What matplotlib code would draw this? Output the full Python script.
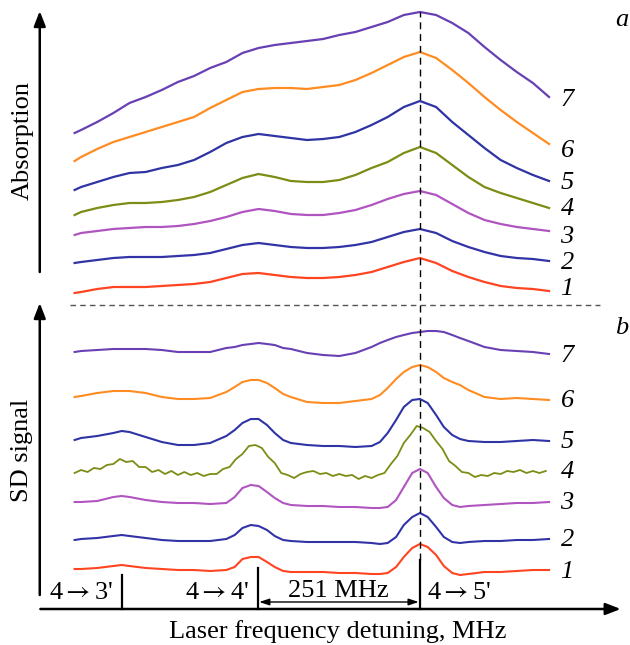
import matplotlib.pyplot as plt

# detuning grids, MHz (0 = 4->5' transition)
x_abs = [-535, -525, -500, -475, -450, -425, -400, -375, -350, -325, -300, -275, -250, -225, -200, -175,
         -150, -125, -100, -75, -50, -25, 0, 25, 50, 75, 100, 125, 150, 175, 200]
x_sd = [-535, -525, -500, -475, -462, -450, -425, -400, -375, -350, -325, -300, -287, -275, -262, -250, -237,
        -225, -212, -200, -175, -150, -125, -100, -75, -62, -50, -37, -25, -12, 0, 12, 25, 37, 50, 62, 75,
        100, 125, 150, 175, 200]
x_sd4 = list(range(-535, 200, 10))

# absorption traces (a), arb. units
abs_1 = [352, 353, 356, 358, 358, 358, 359, 360, 361, 363, 367, 371, 372, 370, 368, 367, 367, 368, 370, 373,
         378, 383, 387, 382, 374, 368, 363, 359, 357, 356, 354]
abs_2 = [382, 383, 385, 387, 388, 388, 388, 389, 390, 392, 396, 400, 402, 400, 398, 397, 397, 398, 400, 403,
         408, 413, 416, 412, 404, 398, 393, 389, 387, 386, 384]
abs_3 = [410, 412, 414, 416, 417, 418, 418, 419, 421, 424, 428, 433, 436, 434, 431, 430, 430, 432, 435, 440,
         446, 451, 454, 450, 441, 432, 425, 421, 418, 416, 414]
abs_4 = [430, 433, 437, 440, 442, 442, 443, 445, 448, 453, 460, 467, 471, 468, 464, 463, 463, 465, 470, 477,
         483, 492, 498, 492, 480, 468, 458, 452, 447, 442, 437]
abs_5 = [455, 458, 463, 468, 472, 473, 477, 480, 485, 493, 502, 508, 511, 509, 507, 505, 506, 508, 513, 520,
         528, 538, 544, 538, 523, 510, 497, 485, 477, 470, 464]
abs_6 = [484, 488, 496, 503, 508, 513, 518, 523, 528, 537, 545, 553, 556, 557, 557, 556, 558, 560, 565, 572,
         580, 588, 593, 587, 575, 562, 548, 535, 523, 512, 501]
abs_7 = [512, 515, 523, 532, 542, 548, 555, 563, 569, 577, 583, 592, 597, 600, 602, 604, 606, 610, 613, 618,
         623, 630, 633, 630, 622, 612, 598, 585, 573, 562, 548]

# SD signal traces (b), arb. units
sd_1 = [76, 76, 77, 79, 80, 79, 77, 76, 75, 75, 74, 75, 78, 86, 88, 88, 83, 78, 74, 73, 73, 73, 72, 72, 71,
        71, 72, 78, 88, 97, 101, 98, 90, 79, 72, 70, 71, 73, 73, 74, 75, 75]
sd_2 = [105, 106, 107, 109, 110, 109, 107, 105, 104, 104, 104, 106, 110, 117, 120, 119, 115, 109, 105, 104,
        103, 103, 103, 103, 102, 101, 102, 108, 120, 128, 132, 128, 118, 108, 103, 102, 103, 104, 104, 105, 105, 106]
sd_3 = [143, 143, 144, 148, 149, 148, 145, 143, 142, 142, 141, 142, 148, 157, 160, 159, 153, 147, 142, 140,
        139, 139, 138, 138, 137, 137, 138, 145, 158, 172, 176, 172, 158, 147, 140, 138, 139, 140, 141, 142, 142, 143]
sd_4 = [172, 175, 173, 177, 176, 180, 181, 186, 183, 184, 178, 178, 173, 175, 171, 174, 170, 173, 170, 172,
        169, 171, 171, 176, 178, 186, 191, 199, 200, 197, 188, 182, 172, 170, 167, 171, 173, 174, 171, 172,
        169, 171, 169, 170, 166, 169, 167, 170, 172, 181, 189, 202, 210, 219, 217, 213, 204, 196, 184, 179,
        173, 172, 168, 170, 169, 172, 171, 174, 173, 175, 172, 174, 172, 174]
sd_5 = [205, 207, 209, 212, 214, 213, 208, 203, 200, 200, 202, 209, 215, 222, 226, 226, 220, 212, 205, 202,
        200, 199, 199, 198, 199, 203, 212, 225, 238, 245, 246, 242, 230, 218, 210, 206, 204, 203, 203, 204, 205, 204]
sd_6 = [248, 249, 252, 254, 254, 254, 252, 248, 246, 246, 247, 253, 258, 263, 265, 265, 262, 257, 251, 248,
        243, 242, 242, 244, 246, 250, 257, 266, 273, 278, 280, 278, 273, 267, 263, 260, 255, 248, 246, 247, 246, 245]
sd_7 = [293, 294, 295, 296, 296, 296, 296, 295, 293, 293, 293, 297, 298, 300, 301, 302, 301, 300, 297, 296,
        292, 290, 289, 292, 298, 302, 305, 308, 310, 312, 313, 314, 314, 313, 310, 307, 304, 298, 295, 294, 293, 291]

labels = ['1', '2', '3', '4', '5', '6', '7']
colors = ['#ff4422', '#3333a8', '#b055c0', '#7d8c14', '#2e34a4', '#ff8c22', '#6840b4']
abs_curves = [abs_1, abs_2, abs_3, abs_4, abs_5, abs_6, abs_7]
sd_curves = [sd_1, sd_2, sd_3, sd_4, sd_5, sd_6, sd_7]
abs_label_y = [356, 382, 408, 436, 462, 494, 545]
sd_label_y = [73, 105, 142, 173, 203, 244, 289]

# transitions, MHz
trans_x = [-462, -251, 0]
trans_names = ["4$\\rightarrow$3'", "4$\\rightarrow$4'", "4$\\rightarrow$5'"]

plt.rcParams['font.family'] = ['Liberation Serif', 'DejaVu Serif']
plt.rcParams['mathtext.fontset'] = 'stix'
fig = plt.figure(figsize=(6.3, 6.45), dpi=100)
ax = fig.add_axes([0, 0, 1, 1])
ax.set_xlim(-650.6, 325.4)
ax.set_ylim(0, 645)
ax.axis('off')

fs = 19
for i in range(7):
    ax.plot(x_abs, abs_curves[i], color=colors[i], lw=1.6, solid_joinstyle='round')
    xs = x_sd4 if i == 3 else x_sd
    ax.plot(xs, sd_curves[i], color=colors[i], lw=1.3 if i == 3 else 1.5, solid_joinstyle='round')
    ax.text(228, abs_label_y[i], labels[i], fontsize=fs, style='italic', ha='center', va='center')
    ax.text(228, sd_label_y[i], labels[i], fontsize=fs, style='italic', ha='center', va='center')

ax.text(313, 625, 'a', fontsize=fs, style='italic', ha='center', va='center')
ax.text(313, 317, 'b', fontsize=fs, style='italic', ha='center', va='center')

# separators
ax.plot([-542, 279], [340, 340], ls=(0, (4, 3)), color='#555555', lw=1)
ax.plot([0, 0], [85, 633], ls=(0, (5, 3.5)), color='black', lw=1)

# axis arrows
arrow = dict(arrowstyle='-|>,head_length=0.9,head_width=0.35', lw=1.8, color='black', shrinkA=0, shrinkB=0)
ax.annotate('', xy=(-589, 634), xytext=(-589, 373), arrowprops=arrow)
ax.annotate('', xy=(-589, 342), xytext=(-589, 50), arrowprops=arrow)
ax.annotate('', xy=(311, 36), xytext=(-588, 36), arrowprops=arrow)

# transition markers
tick_top = [70, 77, 85]
for tx, top in zip(trans_x, tick_top):
    ax.plot([tx, tx], [36, top], color='black', lw=1.6)
ax.text(-525, 52, trans_names[0], fontsize=fs, ha='center', va='center')
ax.text(-314, 52, trans_names[1], fontsize=fs, ha='center', va='center')
ax.text(11, 52, trans_names[2], fontsize=fs, ha='left', va='center')
ax.annotate('', xy=(-2, 43), xytext=(-249, 43),
            arrowprops=dict(arrowstyle='<|-|>,head_length=0.6,head_width=0.2', lw=1, color='black',
                            shrinkA=0, shrinkB=0))
ax.text(-127, 54, '251 MHz', fontsize=fs, ha='center', va='center')

ax.text(-127, 13, 'Laser frequency detuning, MHz', fontsize=fs, ha='center', va='center')
ax.text(-616, 504, 'Absorption', fontsize=fs, rotation=90, ha='center', va='center')
ax.text(-616, 195, 'SD signal', fontsize=fs, rotation=90, ha='center', va='center')

fig.savefig('out.png', dpi=100)
